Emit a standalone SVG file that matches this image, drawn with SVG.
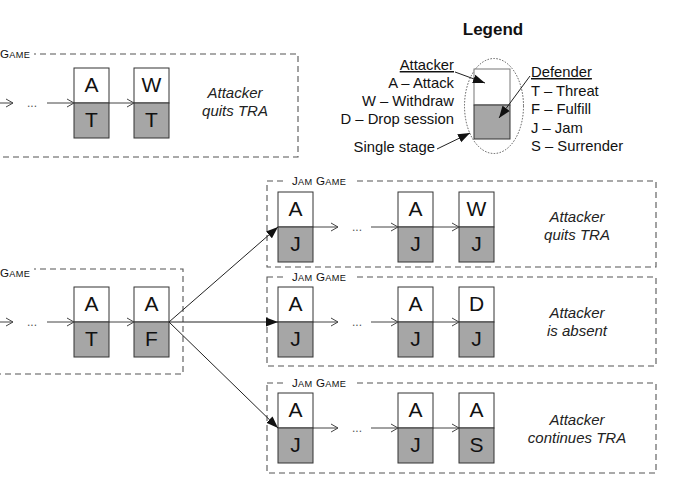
<svg xmlns="http://www.w3.org/2000/svg" width="680" height="500" viewBox="0 0 680 500">
<style>
.box{fill:none;stroke:#555;stroke-width:1.1;stroke-dasharray:6,4}
.top{fill:#fff;stroke:#333;stroke-width:1}
.bot{fill:#a6a6a6;stroke:#333;stroke-width:1}
.lt{font-family:"Liberation Sans",Arial,sans-serif;font-size:21px;fill:#111;text-anchor:middle}
.lbl{font-family:"Liberation Sans",Arial,sans-serif;font-size:11.6px;fill:#111;letter-spacing:0.3px}
.sm{font-size:9.2px}
.out{font-family:"Liberation Sans",Arial,sans-serif;font-size:15px;font-style:italic;fill:#222;text-anchor:middle}
.leg{font-family:"Liberation Sans",Arial,sans-serif;font-size:14.8px;fill:#111}
.dots{font-family:"Liberation Sans",Arial,sans-serif;font-size:12px;fill:#555;text-anchor:middle}
.ch{fill:none;stroke:#444;stroke-width:1;marker-end:url(#open)}
.fa{fill:none;stroke:#222;stroke-width:1;marker-end:url(#fill)}
</style>
<defs>
<marker id="open" viewBox="0 0 8 10" refX="8" refY="5" markerWidth="8" markerHeight="10" markerUnits="userSpaceOnUse" orient="auto">
<path d="M1,1 L8,5 L1,9" fill="none" stroke="#444" stroke-width="1"/>
</marker>
<marker id="fill" viewBox="0 0 12 10" refX="12" refY="5" markerWidth="12" markerHeight="10" markerUnits="userSpaceOnUse" orient="auto">
<path d="M0,0.5 L12,5 L0,9.5 z" fill="#111"/>
</marker>
</defs>

<!-- game boxes -->
<g id="game-top">
<rect class="box" x="-10" y="54" width="308" height="103"/>
<rect x="0" y="47" width="34" height="12" fill="#fff"/>
<text class="lbl" x="0" y="58" letter-spacing="0">G<tspan class="sm">AME</tspan></text>
<text class="out" x="235" y="98">Attacker</text>
<text class="out" x="235" y="116">quits TRA</text>
</g>
<g id="game-mid">
<rect class="box" x="-10" y="269" width="193" height="105"/>
<rect x="0" y="262" width="34" height="12" fill="#fff"/>
<text class="lbl" x="0" y="277" letter-spacing="0">G<tspan class="sm">AME</tspan></text>
</g>
<g id="jam1">
<rect class="box" x="267" y="181" width="389" height="86"/>
<rect x="287" y="175" width="67" height="12" fill="#fff"/>
<text class="lbl" x="292" y="185">J<tspan class="sm">AM</tspan> G<tspan class="sm">AME</tspan></text>
<text class="out" x="577" y="222">Attacker</text>
<text class="out" x="577" y="240">quits TRA</text>
</g>
<g id="jam2">
<rect class="box" x="267" y="277" width="389" height="89"/>
<rect x="287" y="271" width="67" height="12" fill="#fff"/>
<text class="lbl" x="292" y="281">J<tspan class="sm">AM</tspan> G<tspan class="sm">AME</tspan></text>
<text class="out" x="577" y="318">Attacker</text>
<text class="out" x="577" y="336">is absent</text>
</g>
<g id="jam3">
<rect class="box" x="267" y="383" width="389" height="90"/>
<rect x="287" y="377" width="67" height="12" fill="#fff"/>
<text class="lbl" x="292" y="387">J<tspan class="sm">AM</tspan> G<tspan class="sm">AME</tspan></text>
<text class="out" x="577" y="425">Attacker</text>
<text class="out" x="577" y="443">continues TRA</text>
</g>

<!-- stages -->
<g id="s-top-1"><rect class="top" x="74" y="68" width="35" height="35"/><rect class="bot" x="74" y="103" width="35" height="35"/><text class="lt" x="91.5" y="92">A</text><text class="lt" x="91.5" y="127">T</text></g>
<g id="s-top-2"><rect class="top" x="134" y="68" width="35" height="35"/><rect class="bot" x="134" y="103" width="35" height="35"/><text class="lt" x="151.5" y="92">W</text><text class="lt" x="151.5" y="127">T</text></g>
<g id="s-mid-1"><rect class="top" x="74" y="287" width="35" height="35"/><rect class="bot" x="74" y="322" width="35" height="35"/><text class="lt" x="91.5" y="311">A</text><text class="lt" x="91.5" y="346">T</text></g>
<g id="s-mid-2"><rect class="top" x="134" y="287" width="35" height="35"/><rect class="bot" x="134" y="322" width="35" height="35"/><text class="lt" x="151.5" y="311">A</text><text class="lt" x="151.5" y="346">F</text></g>

<g id="s-j1-1"><rect class="top" x="278" y="192" width="35" height="35"/><rect class="bot" x="278" y="227" width="35" height="35"/><text class="lt" x="295.5" y="216">A</text><text class="lt" x="295.5" y="251">J</text></g>
<g id="s-j1-2"><rect class="top" x="398" y="192" width="35" height="35"/><rect class="bot" x="398" y="227" width="35" height="35"/><text class="lt" x="415.5" y="216">A</text><text class="lt" x="415.5" y="251">J</text></g>
<g id="s-j1-3"><rect class="top" x="459" y="192" width="35" height="35"/><rect class="bot" x="459" y="227" width="35" height="35"/><text class="lt" x="476.5" y="216">W</text><text class="lt" x="476.5" y="251">J</text></g>

<g id="s-j2-1"><rect class="top" x="278" y="287" width="35" height="35"/><rect class="bot" x="278" y="322" width="35" height="35"/><text class="lt" x="295.5" y="311">A</text><text class="lt" x="295.5" y="346">J</text></g>
<g id="s-j2-2"><rect class="top" x="398" y="287" width="35" height="35"/><rect class="bot" x="398" y="322" width="35" height="35"/><text class="lt" x="415.5" y="311">A</text><text class="lt" x="415.5" y="346">J</text></g>
<g id="s-j2-3"><rect class="top" x="459" y="287" width="35" height="35"/><rect class="bot" x="459" y="322" width="35" height="35"/><text class="lt" x="476.5" y="311">D</text><text class="lt" x="476.5" y="346">J</text></g>

<g id="s-j3-1"><rect class="top" x="278" y="393" width="35" height="35"/><rect class="bot" x="278" y="428" width="35" height="35"/><text class="lt" x="295.5" y="417">A</text><text class="lt" x="295.5" y="452">J</text></g>
<g id="s-j3-2"><rect class="top" x="398" y="393" width="35" height="35"/><rect class="bot" x="398" y="428" width="35" height="35"/><text class="lt" x="415.5" y="417">A</text><text class="lt" x="415.5" y="452">J</text></g>
<g id="s-j3-3"><rect class="top" x="459" y="393" width="35" height="35"/><rect class="bot" x="459" y="428" width="35" height="35"/><text class="lt" x="476.5" y="417">A</text><text class="lt" x="476.5" y="452">S</text></g>

<!-- legend -->
<g id="legend">
<text x="493" y="35" font-family="Liberation Sans,Arial,sans-serif" font-size="17" font-weight="bold" text-anchor="middle" fill="#111">Legend</text>
<ellipse cx="494" cy="106" rx="29.5" ry="47.5" fill="none" stroke="#555" stroke-width="1" stroke-dasharray="1.5,1.5"/>
<rect x="474" y="69" width="36" height="36" fill="#fff" stroke="#777" stroke-width="1"/>
<rect x="474" y="105" width="36" height="34" fill="#a6a6a6" stroke="#333" stroke-width="1"/>
<text class="leg" x="454" y="70" text-anchor="end" text-decoration="underline">Attacker</text>
<text class="leg" x="454" y="88" text-anchor="end">A – Attack</text>
<text class="leg" x="454" y="106" text-anchor="end">W – Withdraw</text>
<text class="leg" x="454" y="124" text-anchor="end">D – Drop session</text>
<text class="leg" x="435" y="152" text-anchor="end">Single stage</text>
<text class="leg" x="531" y="77" text-decoration="underline">Defender</text>
<text class="leg" x="531" y="96">T – Threat</text>
<text class="leg" x="531" y="114">F – Fulfill</text>
<text class="leg" x="531" y="133">J – Jam</text>
<text class="leg" x="531" y="151">S – Surrender</text>
</g>

<!-- connectors -->
<g id="connectors">
<line class="fa" x1="455" y1="72" x2="485" y2="83"/>
<line class="fa" x1="530" y1="76" x2="499" y2="118"/>
<line class="fa" x1="437" y1="149" x2="470" y2="133"/>

<line class="ch" x1="0" y1="103" x2="13" y2="103"/>
<text class="dots" x="32" y="107">...</text>
<line class="ch" x1="47" y1="103" x2="74" y2="103"/>
<line class="ch" x1="109" y1="103" x2="134" y2="103"/>

<line class="ch" x1="0" y1="322" x2="13" y2="322"/>
<text class="dots" x="32" y="326">...</text>
<line class="ch" x1="47" y1="322" x2="74" y2="322"/>
<line class="ch" x1="109" y1="322" x2="134" y2="322"/>

<line class="fa" x1="169" y1="322" x2="278" y2="227"/>
<line class="fa" x1="169" y1="322" x2="278" y2="322"/>
<line class="fa" x1="169" y1="322" x2="278" y2="428"/>

<line class="ch" x1="313" y1="227" x2="338" y2="227"/>
<text class="dots" x="357" y="231">...</text>
<line class="ch" x1="371" y1="227" x2="398" y2="227"/>
<line class="ch" x1="433" y1="227" x2="459" y2="227"/>

<line class="ch" x1="313" y1="322" x2="338" y2="322"/>
<text class="dots" x="357" y="326">...</text>
<line class="ch" x1="371" y1="322" x2="398" y2="322"/>
<line class="ch" x1="433" y1="322" x2="459" y2="322"/>

<line class="ch" x1="313" y1="428" x2="338" y2="428"/>
<text class="dots" x="357" y="432">...</text>
<line class="ch" x1="371" y1="428" x2="398" y2="428"/>
<line class="ch" x1="433" y1="428" x2="459" y2="428"/>
</g>
</svg>
